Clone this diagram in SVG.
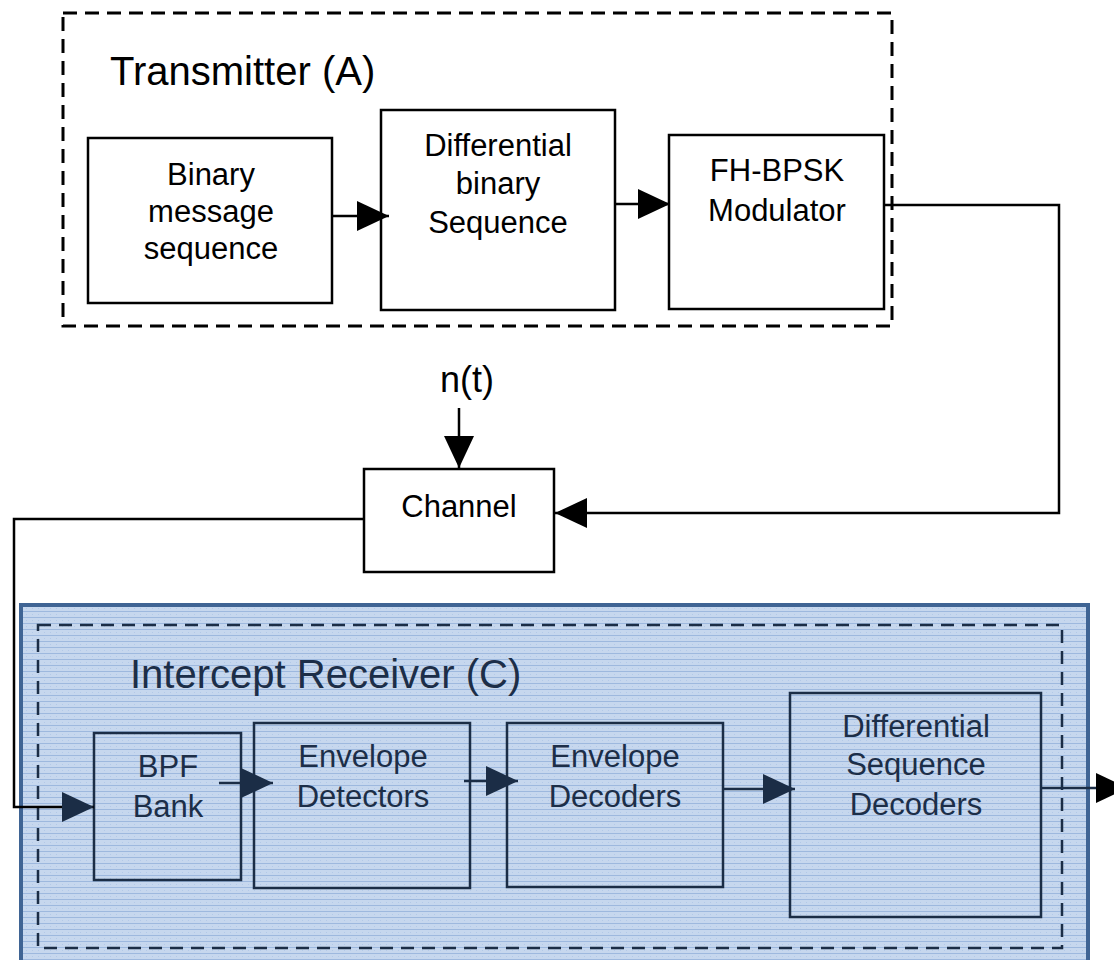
<svg xmlns="http://www.w3.org/2000/svg" width="1114" height="960" viewBox="0 0 1114 960">
<style>
  text { font-family: "Liberation Sans", Arial, sans-serif; }
  .box { fill: #ffffff; stroke: #000; stroke-width: 2.5; }
  .rbox { fill: none; stroke: #1b2d46; stroke-width: 2.5; }
  .lbl { font-size: 31px; fill: #000; text-anchor: middle; }
  .rlbl { font-size: 31px; fill: #1c2e48; text-anchor: middle; }
  .title { font-size: 40px; fill: #000; }
  .rtitle { font-size: 40px; fill: #1c2e48; }
  .dash { fill: none; stroke: #000; stroke-width: 3; stroke-dasharray: 14 8; }
  .rdash { fill: none; stroke: #1b2d46; stroke-width: 2.5; stroke-dasharray: 13 8; }
  .wire { fill: none; stroke: #000; stroke-width: 2.5; }
  .rwire { fill: none; stroke: #1b2d46; stroke-width: 2.5; }
</style>
<defs>
  <pattern id="tex" width="6" height="6" patternUnits="userSpaceOnUse">
    <rect width="6" height="6" fill="#c6d7ee"/>
    <rect y="5" width="6" height="1" fill="#9db8de"/>
    <rect x="2" y="2" width="1" height="1" fill="#b3c9e8"/>
  </pattern>
  <marker id="ah" markerUnits="userSpaceOnUse" markerWidth="32" markerHeight="30" refX="32" refY="15" orient="auto">
    <path d="M0,0 L32,15 L0,30 z" fill="#000"/>
  </marker>
  <marker id="rah" markerUnits="userSpaceOnUse" markerWidth="32" markerHeight="30" refX="32" refY="15" orient="auto">
    <path d="M0,0 L32,15 L0,30 z" fill="#1b2d46"/>
  </marker>
</defs>

<rect x="0" y="0" width="1114" height="960" fill="#ffffff"/>

<g id="receiver-panel">
  <rect x="21" y="605" width="1067" height="365" fill="url(#tex)" stroke="#3f6494" stroke-width="4"/>
</g>

<g id="transmitter-group">
  <rect class="dash" x="63" y="13" width="829" height="313"/>
  <text class="title" x="110" y="85">Transmitter (A)</text>
</g>

<g id="binary-message">
  <rect class="box" x="88" y="138" width="244" height="165"/>
  <text class="lbl" x="211" y="185">Binary</text>
  <text class="lbl" x="211" y="222">message</text>
  <text class="lbl" x="211" y="259">sequence</text>
</g>

<g id="differential-binary">
  <rect class="box" x="381" y="110" width="234" height="200"/>
  <text class="lbl" x="498" y="156">Differential</text>
  <text class="lbl" x="498" y="194">binary</text>
  <text class="lbl" x="498" y="233">Sequence</text>
</g>

<g id="fh-bpsk">
  <rect class="box" x="669" y="135" width="215" height="174"/>
  <text class="lbl" x="777" y="181">FH-BPSK</text>
  <text class="lbl" x="777" y="221">Modulator</text>
</g>

<g id="noise">
  <text class="lbl" x="467" y="392" style="font-size:36px">n(t)</text>
</g>

<g id="channel">
  <rect class="box" x="364" y="469" width="190" height="103"/>
  <text class="lbl" x="459" y="517">Channel</text>
</g>

<g id="receiver-group">
  <rect class="rdash" x="38" y="625" width="1024" height="323"/>
  <text class="rtitle" x="130" y="688">Intercept Receiver (C)</text>
</g>

<g id="bpf-bank">
  <rect class="rbox" x="94" y="733" width="147" height="147"/>
  <text class="rlbl" x="168" y="777">BPF</text>
  <text class="rlbl" x="168" y="817">Bank</text>
</g>

<g id="envelope-detectors">
  <rect class="rbox" x="254" y="723" width="216" height="165"/>
  <text class="rlbl" x="363" y="767">Envelope</text>
  <text class="rlbl" x="363" y="807">Detectors</text>
</g>

<g id="envelope-decoders">
  <rect class="rbox" x="507" y="723" width="216" height="164"/>
  <text class="rlbl" x="615" y="767">Envelope</text>
  <text class="rlbl" x="615" y="807">Decoders</text>
</g>

<g id="diff-seq-decoders">
  <rect class="rbox" x="790" y="693" width="251" height="224"/>
  <text class="rlbl" x="916" y="737">Differential</text>
  <text class="rlbl" x="916" y="775">Sequence</text>
  <text class="rlbl" x="916" y="815">Decoders</text>
</g>

<g id="connectors">
  <path class="wire" d="M332,216 L389,216" marker-end="url(#ah)"/>
  <path class="wire" d="M615,204 L670,204" marker-end="url(#ah)"/>
  <path class="wire" d="M884,205 L1059,205 L1059,513 L555,513" marker-end="url(#ah)"/>
  <path class="wire" d="M459,408 L459,468" marker-end="url(#ah)"/>
  <path class="wire" d="M364,519 L14,519 L14,807 L94,807" marker-end="url(#rah)"/>
  <path class="rwire" d="M219,783 L273,783" marker-end="url(#rah)"/>
  <path class="rwire" d="M464,781 L518,781" marker-end="url(#rah)"/>
  <path class="rwire" d="M723,789 L795,789" marker-end="url(#rah)"/>
  <path class="rwire" d="M1041,788 L1128,788" marker-end="url(#ah)"/>
</g>
</svg>
